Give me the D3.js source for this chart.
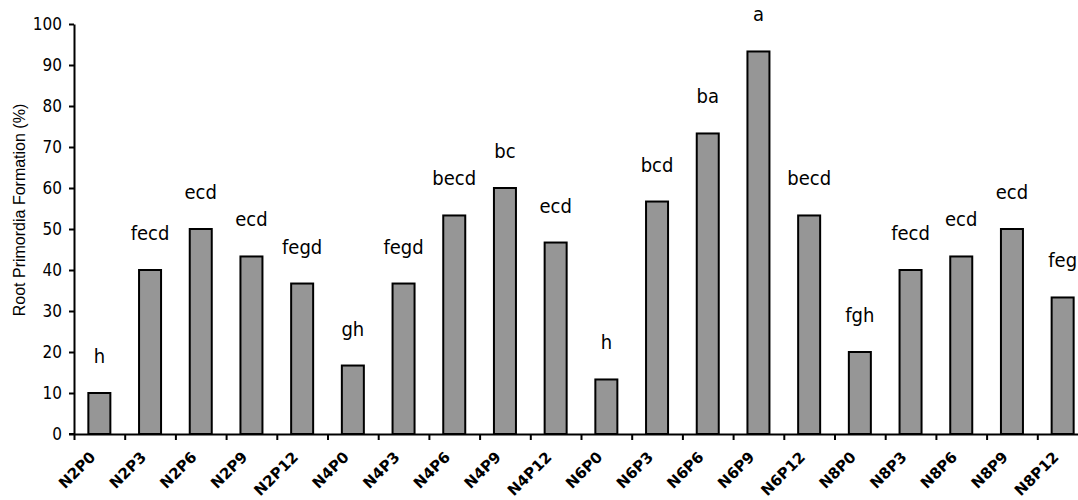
<!DOCTYPE html>
<html>
<head>
<meta charset="utf-8">
<script src="https://cdn.jsdelivr.net/npm/d3@7"></script>
<style>
    body { margin: 0; background: #fff; }
    svg { display: block; }
</style>
</head>
<body>
<svg width="1078" height="500"></svg>
<script>
var categories = ["N2P0", "N2P3", "N2P6", "N2P9", "N2P12",
    "N4P0", "N4P3", "N4P6", "N4P9", "N4P12",
    "N6P0", "N6P3", "N6P6", "N6P9", "N6P12",
    "N8P0", "N8P3", "N8P6", "N8P9", "N8P12"];

var values = [10, 40, 50, 43.3, 36.7,
    16.7, 36.7, 53.3, 60, 46.7,
    13.3, 56.7, 73.3, 93.3, 53.3,
    20, 40, 43.3, 50, 33.3];

var letters = ["h", "fecd", "ecd", "ecd", "fegd",
    "gh", "fegd", "becd", "bc", "ecd",
    "h", "bcd", "ba", "a", "becd",
    "fgh", "fecd", "ecd", "ecd", "feg"];

var yTicks = [0, 10, 20, 30, 40, 50, 60, 70, 80, 90, 100];

var yTitle = "Root Primordia Formation (%)";

var svg = d3.select("svg");
var labelFont = "'DejaVu Sans Condensed', 'DejaVu Sans', sans-serif";

var step = 50.7;
var left = 74;
var right = left + step * categories.length;

var xScale = d3.scaleBand()
    .domain(categories)
    .range([left, right])
    .paddingInner(0.566)
    .paddingOuter(0.283);

// tick marks sit on the category boundaries
var edgeScale = d3.scaleLinear().domain([0, categories.length]).range([left, right]);

var yScale = d3.scaleLinear().domain([0, 100]).range([434, 24]);

var rows = categories.map((c, i) => ({ cat: c, value: values[i], letter: letters[i] }));

// Bars
svg.selectAll("rect.bar")
    .data(rows)
    .enter()
    .append("rect")
    .attr("class", "bar")
    .attr("x", d => xScale(d.cat))
    .attr("width", xScale.bandwidth())
    .attr("y", d => yScale(d.value))
    .attr("height", d => yScale(0) - yScale(d.value))
    .attr("fill", "#969696")
    .attr("stroke", "black")
    .attr("stroke-width", 2);

// Letters above bars
svg.selectAll("text.letter")
    .data(rows)
    .enter()
    .append("text")
    .attr("class", "letter")
    .attr("x", d => xScale(d.cat) + xScale.bandwidth() / 2)
    .attr("y", d => yScale(d.value) - 30)
    .attr("text-anchor", "middle")
    .style("font-family", labelFont)
    .style("font-size", "20px")
    .text(d => d.letter);

// Y axis
var yAxis = svg.append("g")
    .attr("transform", "translate(" + left + ",0)")
    .call(d3.axisLeft(yScale).tickValues(yTicks).tickSize(5).tickSizeOuter(0).tickPadding(7));

yAxis.select(".domain").attr("stroke-width", 2);
yAxis.selectAll(".tick line").attr("stroke-width", 2);
yAxis.selectAll(".tick text")
    .style("font-family", labelFont)
    .style("font-size", "17px")
    .attr("fill", "black");

// X axis
var xAxis = svg.append("g")
    .attr("transform", "translate(0," + yScale(0) + ")")
    .call(d3.axisBottom(edgeScale)
        .tickValues(d3.range(0, categories.length + 1))
        .tickSize(6)
        .tickSizeOuter(0)
        .tickFormat(""));

xAxis.select(".domain").attr("stroke-width", 2);
xAxis.selectAll(".tick line").attr("stroke-width", 2);

xAxis.append("line")
    .attr("x1", left - 5)
    .attr("x2", left)
    .attr("stroke", "black")
    .attr("stroke-width", 2);

// rotated category labels
svg.selectAll("text.xlabel")
    .data(categories)
    .enter()
    .append("text")
    .attr("class", "xlabel")
    .attr("transform", c => "translate(" + (xScale(c) + xScale.bandwidth() / 2 - 3) + "," + (yScale(0) + 24) + ") rotate(-45)")
    .attr("text-anchor", "end")
    .attr("font-family", "DejaVu Sans")
    .attr("font-weight", "bold")
    .attr("font-size", 15)
    .text(c => c);

// Y axis title
svg.append("text")
    .attr("transform", "translate(25,210) rotate(-90)")
    .attr("text-anchor", "middle")
    .style("font-family", "'Liberation Sans', Arial, sans-serif")
    .style("font-size", "16px")
    .text(yTitle);
</script>
</body>
</html>
